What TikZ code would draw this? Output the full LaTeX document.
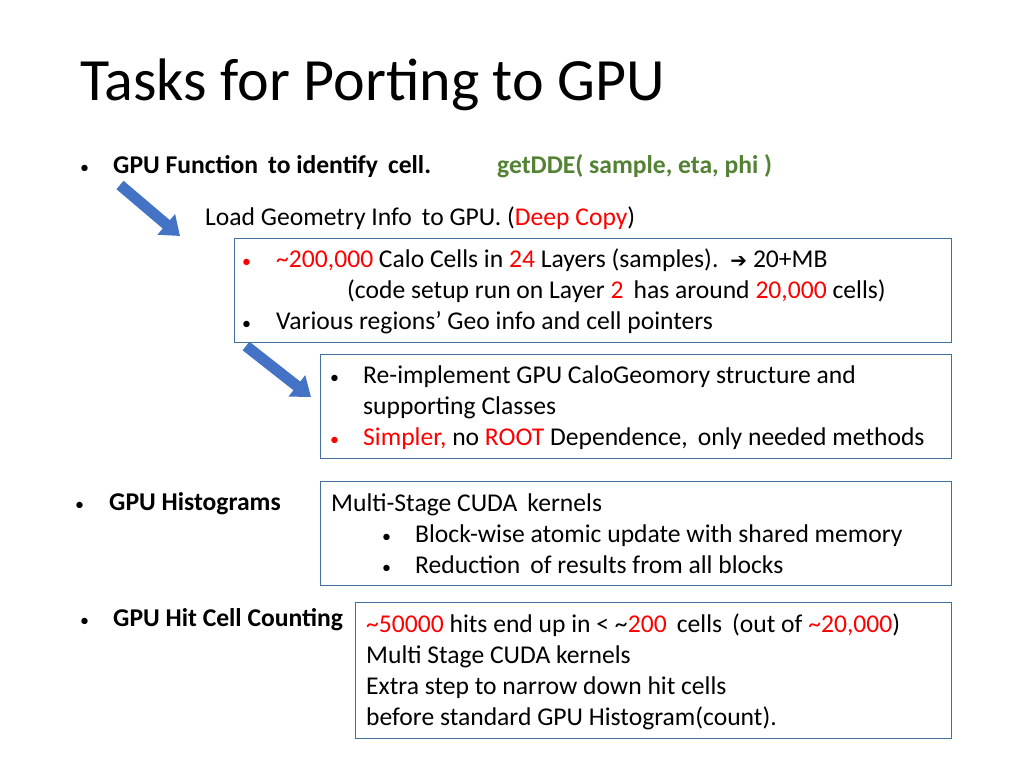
\documentclass[tikz,border=0pt]{standalone}
\usepackage{fontspec}
\setmainfont{Carlito}
\newfontfamily\symfont{DejaVu Sans}
\usetikzlibrary{arrows.meta, positioning}
\definecolor{boxline}{RGB}{65,113,156}
\definecolor{arrowfill}{RGB}{68,114,196}
\definecolor{arrowline}{RGB}{47,82,143}
\definecolor{ddegreen}{RGB}{84,130,53}
\definecolor{hot}{RGB}{255,0,0}
\newcommand{\blt}{{\fontsize{18}{20}\selectfont\textbullet}}

\begin{document}
\begin{tikzpicture}[x=1pt, y=-1pt]
	\tikzset{txt/.style={anchor=base west, inner sep=0pt, font=\fontsize{25.6}{30}\selectfont},
		bold/.style={txt, font=\fontsize{25.6}{30}\selectfont\bfseries},
		infobox/.style={draw=boxline, line width=1pt},
		bigarrow/.style={line width=11pt, draw=arrowfill, -{Triangle[width=26pt,length=18pt]}}}
	\useasboundingbox[fill=white] (0,0) rectangle (1024,768);

	% title
	\node[anchor=base west, inner sep=0pt, font=\fontsize{60}{70}\selectfont] (title) at (80,100) {Tasks for Porting to GPU};

	% first task
	\node[txt] (b1) at (80,173) {\blt};
	\node[bold] (t1) at (113,173) {GPU Function\, to identify\, cell.};
	\node[bold, text=ddegreen] (dde) at (497,173) {getDDE( sample, eta, phi )};
	\node[txt] (load) at (205,225) {Load Geometry Info\, to GPU. (\textcolor{hot}{Deep Copy})};

	\coordinate (a1s) at (120,185);
	\coordinate (a1e) at (180,236);
	\draw[bigarrow] (a1s) -- (a1e);

	\draw[infobox] (234,238) rectangle (951,342);
	\node[txt, text=hot] (g1) at (242,267) {\blt};
	\node[txt] (g1t) at (276,267) {\textcolor{hot}{\textasciitilde200,000} Calo Cells in \textcolor{hot}{24} Layers (samples).\, {\symfont\fontsize{20}{24}\selectfont ➔} 20+MB};
	\node[txt] (g2t) at (347,298) {(code setup run on Layer \textcolor{hot}{2}\, has around \textcolor{hot}{20,000} cells)};
	\node[txt] (g3) at (242,329) {\blt};
	\node[txt] (g3t) at (276,329) {Various regions’ Geo info and cell pointers};

	\coordinate (a2s) at (246,346);
	\coordinate (a2e) at (311,397);
	\draw[bigarrow] (a2s) -- (a2e);

	\draw[infobox] (320,354) rectangle (951,458);
	\node[txt] (r1) at (330,383) {\blt};
	\node[txt] (r1t) at (363,383) {Re-implement GPU CaloGeomory structure and};
	\node[txt] (r2t) at (363,414) {supporting Classes};
	\node[txt, text=hot] (r3) at (330,445) {\blt};
	\node[txt] (r3t) at (363,445) {\textcolor{hot}{Simpler,} no \textcolor{hot}{ROOT} Dependence,\, only needed methods};

	% histograms
	\node[txt] (b2) at (75,510) {\blt};
	\node[bold] (t2) at (109,510) {GPU Histograms};
	\draw[infobox] (320,481) rectangle (951,585);
	\node[txt] (h1t) at (331,511) {Multi-Stage CUDA\, kernels};
	\node[txt] (h2) at (382,542) {\blt};
	\node[txt] (h2t) at (415,542) {Block-wise atomic update with shared memory};
	\node[txt] (h3) at (382,573) {\blt};
	\node[txt] (h3t) at (415,573) {Reduction\, of results from all blocks};

	% hit cell counting
	\node[txt] (b3) at (80,626) {\blt};
	\node[bold] (t3) at (113,626) {GPU Hit Cell Counting};
	\draw[infobox] (355,602) rectangle (951,738);
	\node[txt] (c1t) at (366,632) {\textcolor{hot}{\textasciitilde50000} hits end up in < \textasciitilde\textcolor{hot}{200}\, cells\, (out of \textcolor{hot}{\textasciitilde20,000})};
	\node[txt] (c2t) at (366,663) {Multi Stage CUDA kernels};
	\node[txt] (c3t) at (366,694) {Extra step to narrow down hit cells};
	\node[txt] (c4t) at (366,725) {before standard GPU Histogram(count).};
\end{tikzpicture}
\end{document}
